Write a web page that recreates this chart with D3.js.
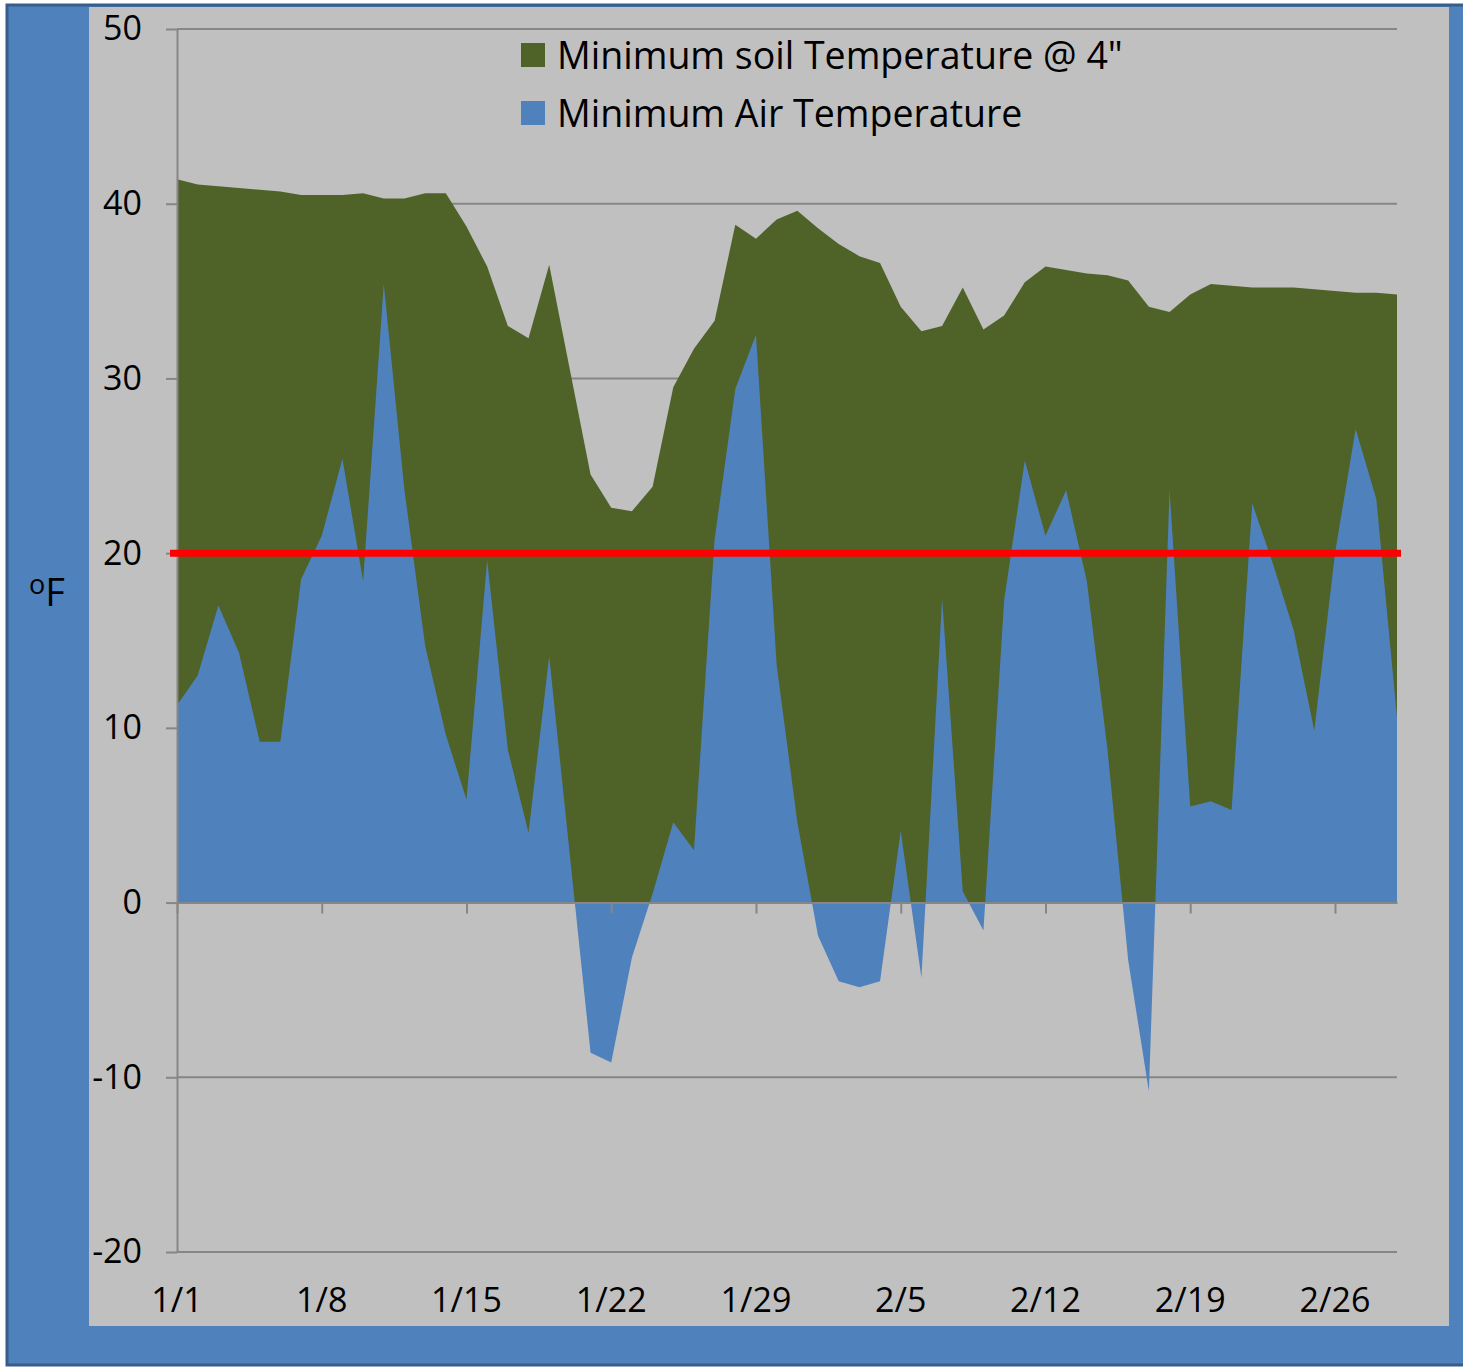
<!DOCTYPE html>
<html>
<head>
<meta charset="utf-8">
<script src="https://cdn.jsdelivr.net/npm/d3@7"></script>
<style>
  body { margin: 0; background: #ffffff; }
  text { font-family: "Open Sans", Lato, sans-serif; fill: #000; }
</style>
</head>
<body>
<div id="chart"></div>
<script>
// first day of the series, one reading per day
const startDate = new Date(2012, 0, 1);

const soilTemp = [
  41.4, 41.1, 41.0, 40.9, 40.8, 40.7, 40.5, 40.5, 40.5, 40.6,
  40.3, 40.3, 40.6, 40.6, 38.7, 36.4, 33.0, 32.3, 36.5, 30.5,
  24.5, 22.6, 22.4, 23.8, 29.5, 31.7, 33.3, 38.8, 38.0, 39.1,
  39.6, 38.6, 37.7, 37.0, 36.6, 34.1, 32.7, 33.0, 35.2, 32.8,
  33.6, 35.5, 36.4, 36.2, 36.0, 35.9, 35.6, 34.1, 33.8, 34.8,
  35.4, 35.3, 35.2, 35.2, 35.2, 35.1, 35.0, 34.9, 34.9, 34.8
];

const airTemp = [
  11.3, 13.0, 17.0, 14.3, 9.2, 9.2, 18.5, 21.0, 25.4, 18.4,
  35.4, 23.6, 14.7, 9.6, 5.9, 19.6, 8.75, 4.0, 14.1, 2.7,
  -8.6, -9.15, -3.15, 0.5, 4.6, 3.0, 20.8, 29.4, 32.5, 13.6,
  4.6, -1.9, -4.5, -4.85, -4.5, 4.1, -4.3, 17.4, 0.65, -1.6,
  17.3, 25.3, 21.0, 23.6, 18.4, 8.75, -3.3, -10.8, 23.6, 5.5,
  5.8, 5.3, 22.85, 19.4, 15.6, 9.85, 20.0, 27.1, 23.1, 10.6
];

const threshold = 20;
const yTicks = [-20, -10, 0, 10, 20, 30, 40, 50];
const legendLabels = ["Minimum soil Temperature @ 4\"", "Minimum Air Temperature"];

const W = 1463, H = 1367;
const green = "#4F6228", blue = "#4F81BD", plotBg = "#C0C0C0", gridColor = "#868686";

const dates = soilTemp.map((d, i) => d3.timeDay.offset(startDate, i));
const rows = dates.map((d, i) => ({ date: d, soil: soilTemp[i], air: airTemp[i] }));

const svg = d3.select("#chart").append("svg")
  .attr("width", W)
  .attr("height", H);

// outer frame
svg.append("rect")
  .attr("x", 7).attr("y", 5)
  .attr("width", W + 20).attr("height", H - 7)
  .attr("fill", blue)
  .attr("stroke", "#385D8A")
  .attr("stroke-width", 3);

svg.append("rect")
  .attr("x", 89).attr("y", 7)
  .attr("width", 1360).attr("height", 1319)
  .attr("fill", plotBg);

const x = d3.scaleTime()
  .domain([dates[0], dates[dates.length - 1]])
  .range([177, 1397]);

const y = d3.scaleLinear()
  .domain([-20, 50])
  .range([1252, 29]);

// gridlines
svg.append("g")
  .selectAll("line")
  .data(yTicks)
  .enter()
  .append("line")
  .attr("x1", 177).attr("x2", 1397)
  .attr("y1", d => y(d)).attr("y2", d => y(d))
  .attr("stroke", gridColor)
  .attr("stroke-width", 2);

const soilArea = d3.area()
  .x(d => x(d.date))
  .y0(y(0))
  .y1(d => y(d.soil));

const airArea = d3.area()
  .x(d => x(d.date))
  .y0(y(0))
  .y1(d => y(d.air));

svg.append("path").datum(rows).attr("d", soilArea).attr("fill", green);
svg.append("path").datum(rows).attr("d", airArea).attr("fill", blue);

// axes
const yAxis = svg.append("g")
  .attr("transform", "translate(177,0)")
  .call(d3.axisLeft(y).tickValues(yTicks).tickSize(11).tickSizeOuter(0)
    .tickPadding(24).tickFormat(d => String(d)));
yAxis.select(".domain").attr("stroke", gridColor).attr("stroke-width", 2);
yAxis.selectAll(".tick line").attr("stroke", gridColor).attr("stroke-width", 2);
yAxis.selectAll(".tick text")
  .attr("font-size", 34)
  .attr("font-family", "'Open Sans', Lato, sans-serif")
  .attr("fill", "#000");

// weekly ticks counted from the first day
const weekly = dates.filter((d, i) => i % 7 === 0);

const xAxis = svg.append("g")
  .attr("transform", `translate(0,${y(0)})`)
  .call(d3.axisBottom(x).tickValues(weekly).tickSize(11).tickSizeOuter(0).tickFormat(""));
xAxis.select(".domain").attr("stroke", gridColor).attr("stroke-width", 2);
xAxis.selectAll(".tick line").attr("stroke", gridColor).attr("stroke-width", 2);

svg.append("g")
  .selectAll("text")
  .data(weekly)
  .enter()
  .append("text")
  .attr("x", d => x(d))
  .attr("y", 1300)
  .attr("dy", "0.36em")
  .attr("text-anchor", "middle")
  .attr("font-size", 34)
  .text(d3.timeFormat("%-m/%-d"));

// 20 degree reference line
svg.append("line")
  .attr("x1", x(dates[0]) - 7)
  .attr("x2", x(dates[dates.length - 1]) + 4)
  .attr("y1", y(threshold)).attr("y2", y(threshold))
  .attr("stroke", "#FF0000")
  .attr("stroke-width", 7);

// unit label
const unit = svg.append("text")
  .attr("x", 29).attr("y", 606)
  .attr("font-size", 38);
unit.append("tspan").attr("font-size", 27).attr("dy", -12).text("o");
unit.append("tspan").attr("dy", 12).text("F");

// legend
const legend = svg.append("g")
  .selectAll("g")
  .data(legendLabels)
  .enter()
  .append("g")
  .attr("transform", (d, i) => `translate(521,${43 + i * 58})`);

legend.append("rect")
  .attr("width", 24).attr("height", 24)
  .attr("fill", (d, i) => i === 0 ? green : blue);

legend.append("text")
  .attr("x", 36).attr("y", 12)
  .attr("dy", "0.36em")
  .attr("font-size", 37.5)
  .text(d => d);
</script>
</body>
</html>
